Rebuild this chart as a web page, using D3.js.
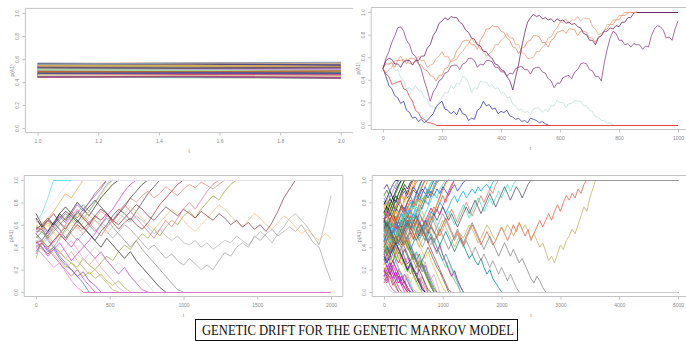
<!DOCTYPE html>
<html>
<head>
<meta charset="utf-8">
<script src="https://cdn.jsdelivr.net/npm/d3@7"></script>
<style>
  body { margin: 0; background: #fff; }
  svg { display: block; }
</style>
</head>
<body>
<svg id="chart" width="686" height="341"></svg>
<script>
// ---- panel 1: t = 1..2, values in thousandths ----
const p1Times = [1, 1.5, 2];
const p1Paths = [
  [548,552,560],[530,536,528],[512,505,498],[495,490,486],[470,476,470],[455,460,448],
  [540,546,552],[522,515,520],[505,512,506],[488,482,478],[462,470,468],[448,452,440],
  [558,562,566],[535,528,540],[518,522,512],[500,496,505],[482,478,470],[468,460,455],
  [552,548,556],[528,532,522],[510,518,514],[492,500,494],[476,470,480],[458,466,460],
  [445,440,432],[560,556,548],[538,542,534],[515,510,502],[498,506,512],[485,490,482],
  [465,458,462],[450,446,438],[545,538,530],[525,520,526],[508,500,492],[490,486,496],
  [472,480,474],[460,455,450],[555,565,570],[442,448,436]
];
const p1Colors = ["#8fd18f","#e05050","#7040a0","#e0d050","#4060c0","#303030","#f0a0c0","#60c0c0",
  "#c08040","#a0a0a0","#50a050","#d070d0","#f09060","#2040a0","#b0d070","#c03060","#90b0e0","#806040",
  "#e0c0a0","#40a0a0","#a06090","#f0e080","#6060d0","#d04040","#80c080","#404080","#e0a060","#a0c0c0",
  "#c0a0e0","#608040","#e06090","#3090d0","#d0b050","#705070","#a0e0a0","#c06030","#5050a0","#e0e0a0",
  "#90a0b0","#b04080"];
const p1XTicks = [1.0, 1.2, 1.4, 1.6, 1.8, 2.0];

// ---- panel 2: t = 0..1000, step 10, values in percent ----
const p2Step = 10;
const p2Paths = [
  [50,55,53,56,48,49,42,40,32,33,30,35,31,30,24,23,16,17,14,21,24,29,28,35,32,37,36,43,42,37,
   29,33,32,39,38,38,34,36,32,33,28,29,24,25,18,17,13,14,11,12,9,14,15,15,11,14,12,17,17,22,
   20,20,15,19,19,22,21,21,17,17,13,12,7,7,4,4,1,2,0],
  [50,43,35,32,26,24,19,21,13,11,6,7,3,5,2,4,7,10,16,19,21,14,13,10,12,9,15,10,9,4,
   6,5,13,15,21,17,18,14,15,10,12,11,13,8,7,5,6,3,4,2,6,5,4,2,3,1,0],
  [50,46,49,51,57,57,61,55,59,54,55,56,61,57,57,51,53,54,59,61,65,60,61,56,57,58,63,65,69,72,
   77,73,73,67,67,61,63,65,71,71,75,77,81,77,77,71,71,64,63,59,59,60,65,65,69,71,77,78,83,86,
   91,91,94,90,93,93,96,92,95,94,94,87,85,80,81,83,89,89,93,93,97,97,100],
  [50,54,54,55,51,57,57,58,54,59,59,58,54,53,49,48,44,43,39,44,44,50,51,57,59,66,69,74,75,75,
   71,71,67,75,79,85,85,88,87,87,83,82,77,75,69,68,63,68,69,74,75,79,79,78,73,73,69,75,77,82,
   83,84,81,85,85,84,79,83,83,82,77,77,73,78,79,84,85,89,89,93,93,97,97,99,100],
  [50,59,65,73,79,86,87,83,75,71,63,61,55,49,39,31,21,29,33,39,41,46,47,52,53,53,49,54,55,59,
   59,57,51,54,53,57,57,56,51,51,47,47,43,46,45,50,51,52,49,49,45,50,51,51,47,46,41,39,33,37,
   37,42,43,44,41,47,49,54,55,54,49,48,43,43,39,55,67,77,83,81,75,75,71,72,69,72,71,71,67,70,
   69,79,85,88,87,84,77,78,75,85,92],
  [50,57,59,58,54,54,51,56,57,57,53,57,57,61,61,68,71,79,83,90,92,95,93,96,95,95,91,89,84,82,
   77,76,71,70,65,65,61,59,54,53,49,48,43,39,31,43,54,69,81,91,95,98,96,97,94,95,93,94,91,94,
   92,93,90,91,89,90,87,86,81,80,75,75,71,77,79,83,83,86,85,88,87,91,91,95,95,99,100],
  [50,45,43,36,37,38,39,32,31,25,21,13,11,6,5,2,2,1,0]
];
const p2Colors = ["#c4e0dc","#3c3ca8","#eaa888","#e8906e","#8e4a8a","#6e2a6a","#e04848"];
const p2XTicks = [0, 200, 400, 600, 800, 1000];

// ---- panel 3: t = 0..2000, step 40 ----
const p3Step = 40;
const p3Paths = [
  [62,70,84,100],
  [44,40,34,38,30,24,20,14,18,10,6,0],
  [56,60,66,60,70,64,72,80,74,68,76,84,90,96,100],
  [52,46,54,62,56,48,56,64,58,52,46,54,60,68,74,70,64,72,80,88,94,100],
  [42,38,34,40,36,30,26,22,30,24,20,26,32,28,36,42,38,46,52,48,56,50,58,64,60,68,72,66,74,80,86,82,90,96,100],
  [58,56,50,44,52,58,64,58,52,60,66,72,68,62,70,78,84,80,86,90,84,88,94,90,86,92,96,93,98,95,92,96,100],
  [48,54,60,52,46,54,60,56,62,68,64,58,52,58,64,70,76,72,66,60,56,62,68,74,70,64,58,54,60,66,72,78,74,68,62,58,64,70,66,60,56,62,68,64,58,52,56,50,46,52,48],
  [50,44,50,56,62,58,52,46,52,58,64,60,54,48,54,60,56,50,44,38,42,36,30,34,28,24,30,25,20,24,20,28,35,32,40,44,40,50,46,52,56,50,54,58,54,60,52,44,40,24,10],
  [60,56,62,58,64,70,66,60,66,72,68,62,58,64,70,66,62,68,64,58,52,56,50,46,50,44,42,46,40,44,38,42,46,44,50,46,42,48,54,50,44,52,58,66,70,64,58,50,42,62,86],
  [66,58,64,70,62,56,64,72,66,60,68,74,70,64,60,66,72,78,74,68,64,70,76,72,68,74,70,66,72,68,64,70,66,60,64,58,62,56,60,54,62,72,84,92,100],
  [38,42,48,40,34,40,46,38,30,24,30,22,16,10,4,0],
  [46,40,32,38,44,36,28,34,40,46,52,60,68,74,82,90,96,100],
  [70,60,54,62,70,76,70,64,58,52,46,40,48,42,36,30,36,28,22,16,10,4,0],
  [36,44,36,40,32,26,20,14,8,0],
  [54,54,48,42,36,30,36,28,22,16,20,14,8,2,0],
  [64,58,66,72,80,88,84,92,100],
  [46,46,52,58,52,46,40,34,28,34,40,34,28,22,26,20,14,8,12,6,0],
  [58,56,48,54,60,66,72,66,74,80,88,94,100],
  [52,58,52,60,68,62,70,78,72,80,86,92,100],
  [60,56,62,54,48,56,62,70,64,72,80,86,94,100],
  [44,46,40,46,52,46,54,60,56,62,68,64,70,62,56,62,66,60,56,62,70,78,84,90,96,100],
  [54,56,50,58,64,70,64,72,66,60,54,60,66,58,52,46,40,46,38,32,26,20,14,8,2,0],
  [40,44,38,46,52,46,40,48,42,36,30,36,28,22,16,22,14,8,2,0],
  [48,54,46,40,48,56,64,70,78,72,80,88,96,100],
  [66,58,64,60,66,72,68,62,70,76,82,76,70,64,70,76,84,90,96,100],
  [34,44,38,32,26,20,14,20,12,6,0],
  [56,56,64,58,52,60,68,74,68,62,56,50,58,64,72,78,72,66,60,54,48,56,64,58,66,74,80,74,82,90,96,100],
  [30,46,40,34,28,22,26,20,14,18,12,16,10,6,10,4,0],
  [62,68,74,80,88,94,100],
  [40,34,28,22,26,18,10,4,0]
];
const p3Colors = ["#60e0e0","#8040c0","#1a1a1a","#404040","#a0a030","#e08878","#f4c080","#a0a0a0",
  "#b0b0b0","#803048","#e8a0c8","#d030d0","#202020","#5060c8","#c8a878","#f0a040","#d0d0d0","#906040",
  "#9050d0","#e8d860","#a03030","#888888","#c050b0","#60a0a0","#303030","#c050b0","#e07090","#b0b040",
  "#e6e0ee","#d878c8"];
const p3XTicks = [0, 500, 1000, 1500, 2000];

// ---- panel 4: t = 0..5000, step 50 ----
const p4Step = 50;
const p4Paths = [
  [57,63,71,66,74,79,73,84,91,87,95,100],
  [43,37,45,39,31,26,33,27,19,24,15,9,12,5,0],
  [81,75,68,74,63,69,77,72,81,86,79,88,93,100],
  [35,41,33,27,36,44,39,31,25,29,21,17,10,3,0],
  [66,59,72,68,61,55,63,70,66,74,81,77,89,95,100],
  [24,31,27,19,13,20,16,9,4,0],
  [52,45,39,47,55,49,42,36,43,37,29,34,26,21,27,18,13,7,0],
  [47,54,61,55,67,62,58,65,73,68,76,71,80,87,82,90,97,100],
  [71,77,83,79,72,80,88,93,87,96,100],
  [39,46,52,44,38,31,37,45,50,43,35,28,22,30,24,17,11,16,8,0],
  [61,54,47,53,59,52,45,51,58,64,57,63,70,65,58,52,60,67,74,69,77,83,90,96,100],
  [29,23,16,22,28,21,14,8,13,6,0],
  [86,91,84,79,88,94,100],
  [54,61,55,48,56,63,58,66,60,53,47,55,62,57,51,44,49,41,36,42,33,27,20,14,19,11,5,0],
  [45,52,47,55,50,58,64,59,67,73,66,71,78,74,83,89,85,93,100],
  [19,12,17,9,4,0],
  [63,57,64,70,76,71,78,74,80,85,91,88,95,100],
  [50,43,48,41,35,40,33,26,31,24,18,23,15,9,3,0],
  [76,82,76,70,63,69,61,55,61,67,62,70,77,84,79,88,94,100],
  [33,40,35,42,49,45,52,47,41,35,29,36,30,24,17,11,5,0],
  [58,52,59,66,60,54,48,55,61,68,63,57,50,56,63,69,75,70,78,85,92,98,100],
  [41,35,28,34,41,47,42,50,45,38,32,26,19,25,18,12,6,0],
  [62,70,78,84,80,88,94,100],
  [70,76,72,80,86,82,90,96,92,98,100],
  [30,22,16,24,18,12,6,10,4,0],
  [20,14,22,16,10,14,8,4,0],
  [55,62,56,64,72,66,60,68,76,70,78,86,80,88,94,100],
  [45,52,60,56,64,58,66,74,68,62,70,76,72,80,86,92,88,96,100],
  [65,72,68,76,82,78,86,90,84,88,94,90,86,92,88,84,90,86,92,88,94,90,86,92,96,90,94,98,100],
  [40,34,42,48,44,52,58,52,46,40,34,28,34,26,20,14,8,2,0],
  [12,8,14,6,10,4,0],
  [25,32,26,20,28,22,16,10,16,8,2,0],
  [50,42,36,44,50,58,52,60,68,62,56,62,70,76,82,78,86,92,98,100],
  [35,28,36,42,36,30,24,30,22,16,22,14,8,14,6,0],
  [58,50,44,52,46,54,62,56,64,70,64,58,52,60,54,48,42,48,40,34,28,22,28,20,14,8,0],
  [15,10,18,12,6,0],
  [72,66,74,80,76,84,78,72,80,86,92,98,100],
  [48,56,62,58,66,72,68,62,56,62,68,74,70,64,70,76,82,88,84,92,96,100],
  [52,46,54,48,42,50,56,50,44,38,44,50,56,52,46,52,58,54,48,42,48,54,48,42,36,42,48,42,36,30,34,28,24,30,22,16,20,12,8,4,0],
  [38,44,38,46,52,46,40,48,54,60,54,48,42,36,30,36,28,22,16,10,4,0],
  [60,54,48,56,62,56,50,44,50,42,36,30,24,18,24,16,10,4,0],
  [8,14,6,2,0],
  [92,96,90,96,100],
  [42,48,42,36,44,50,46,52,58,64,58,52,46,40,46,52,46,40,34,40,34,28,22,16,10,6,0],
  [66,60,54,62,68,62,56,64,70,64,58,64,58,52,58,64,70,76,72,80,86,80,88,94,100],
  [28,34,40,34,28,36,30,24,18,24,16,10,4,0],
  [54,60,66,60,54,48,54,48,42,48,54,60,66,72,66,60,66,72,78,84,90,96,100],
  [76,70,64,70,76,82,88,82,90,96,100],
  [46,40,34,40,46,52,46,40,34,28,34,28,22,28,34,40,34,28,22,18,12,6,0],
  [58,64,58,52,58,64,70,64,58,64,70,66,60,54,60,66,72,68,74,80,76,70,76,82,86,80,86,90,84,88,92,88,94,90,94,96,92,98,100],
  [44,50,44,38,44,50,56,50,44,50,56,62,56,50,56,62,68,62,56,50,56,62,68,74,68,62,68,74,80,74,68,74,80,86,80,86,92,88,96,100],
  [56,50,56,62,56,50,44,50,56,62,58,52,46,52,58,64,58,52,58,64,70,64,58,52,46,52,46,40,46,40,34,40,34,28,34,28,22,28,22,16,22,16,10,16,10,4,0],
  [36,42,48,42,48,54,48,42,48,54,60,54,48,54,60,54,60,66,60,54,60,66,72,66,60,66,72,78,72,66,72,78,84,78,72,78,84,78,84,90,84,90,96,90,96,100],
  [64,58,64,70,64,58,52,58,64,58,52,46,52,58,64,58,64,70,64,70,76,70,64,70,64,58,64,70,76,70,76,82,76,70,76,82,88,82,76,82,88,94,88,82,88,94,90,84,90,96,100],
  [50,56,50,44,50,56,62,56,50,56,62,68,62,56,50,56,50,44,50,56,50,44,38,44,50,56,50,44,50,56,62,56,50,44,38,44,50,44,38,32,38,44,38,32,38,32,26,30,24,18,12,8,14,10,4,0],
  [60,54,48,54,60,54,48,42,48,54,48,54,60,66,60,54,60,54,48,54,60,66,60,54,48,54,48,42,48,54,60,54,48,42,48,54,48,42,46,52,
   58,52,46,52,60,54,62,56,50,56,46,52,58,64,58,64,70,64,72,78,72,80,86,82,88,84,92,88,96,100],
  [48,54,48,42,50,56,50,44,38,44,50,46,40,46,52,58,52,46,52,58,64,58,52,46,40,46,52,48,54,60,56,50,44,48,54,60,56,50,46,52,
   58,54,60,56,50,56,62,56,60,54,48,52,46,40,44,36,28,32,26,34,42,38,46,50,56,52,60,68,76,72,84,92,100],
  [18,24,18,12,18,12,6,0],
  [68,74,80,74,82,88,94,100],
  [32,26,32,38,44,38,32,26,20,26,20,14,8,2,0],
  [74,80,74,68,74,80,86,80,86,92,98,100],
  [22,16,22,28,22,16,10,4,0],
  [50,56,62,68,62,68,74,68,62,56,62,68,74,80,86,92,86,92,98,100],
  [84,78,84,90,96,100],
  [62,56,62,56,50,56,62,68,74,80,74,80,86,80,86,92,98,100],
  [38,32,38,44,50,44,50,56,62,56,62,68,62,56,50,44,38,32,26,20,14,8,2,0],
  [46,52,58,52,58,64,70,76,70,76,82,88,82,88,94,88,94,100],
  [56,62,56,50,44,38,32,38,32,26,20,14,20,14,8,2,0],
  [26,20,26,32,38,32,26,20,14,8,14,8,2,0],
  [14,20,26,20,14,8,14,8,2,0],
  [78,84,90,84,90,96,100],
  [34,28,22,28,22,16,10,16,10,4,0],
  [52,58,52,46,40,46,52,58,64,58,64,70,64,58,52,46,52,46,40,34,28,34,28,22,16,10,4,0],
  [64,70,64,58,64,70,76,70,76,82,76,82,88,94,100],
  [40,46,52,46,40,34,40,46,40,34,28,22,28,22,16,10,4,0],
  [88,82,90,96,92,100],
  [10,6,2,0]
];
const p4Colors = [
  "#ff7f00","#e31a1c","#1f78b4","#6a3d9a","#33a02c","#b15928","#fb9a99","#a6cee3","#000000","#cab2d6",
  "#ff00aa","#00ced1","#228b22","#8b008b","#4169e1","#d2691e","#2f4f4f","#da70d6","#ffa500","#20b2aa",
  "#dc143c","#556b2f",
  "#000000","#1a1a1a","#d020c0","#7020a0","#f08020","#20c0e0","#2040d0","#20a040",
  "#c03070","#e0a0d0","#4080c0","#c08040","#60d0a0","#a040a0","#e05050","#20e0e0","#008080","#f0c040",
  "#8060e0","#e040a0","#3030a0","#a0a0a0","#d06020","#40c040","#c0c040","#ff6090","#606060","#00b0f0",
  "#e07060","#909090","#40e0c0","#405060","#808080","#e06040","#c0b060","#ff00ff","#00a000","#0000a0",
  "#d0d000","#a06000","#ff8000","#8080ff","#00e0a0","#b04040","#2080ff","#505050","#e0e060","#c000c0",
  "#000000","#9040c0","#40a0a0","#ff4040","#888800","#9a9a9a","#c8c8c8"];
const p4XTicks = [0, 1000, 2000, 3000, 4000, 5000];

const yTicks = [0, 0.2, 0.4, 0.6, 0.8, 1.0];
const titleText = "GENETIC DRIFT FOR THE GENETIC MARKOV MODEL";

// ---- layout ----
const svg = d3.select("#chart");
const FONT = "Liberation Sans, Arial, sans-serif";
const BOX = "#c4c4c4";
const TXT = "#8a8a8a";

const panels = [
  {left: 25.4, right: 353, top: 8.4, bottom: 132.6, xDomain: [1, 2], xTicks: p1XTicks, fmt: d3.format(".1f"), rightBorder: false},
  {left: 371.2, right: 689.8, top: 7.5, bottom: 129.5, xDomain: [0, 1000], xTicks: p2XTicks, fmt: d3.format("d"), rightBorder: false},
  {left: 24.2, right: 342.8, top: 175.5, bottom: 296.5, xDomain: [0, 2000], xTicks: p3XTicks, fmt: d3.format("d"), rightBorder: true},
  {left: 372.2, right: 689.8, top: 175.5, bottom: 296.5, xDomain: [0, 5000], xTicks: p4XTicks, fmt: d3.format("d"), rightBorder: false}
];

function frame(p) {
  const span = p.xDomain[1] - p.xDomain[0];
  const x = d3.scaleLinear()
    .domain([p.xDomain[0] - 0.04 * span, p.xDomain[1] + 0.04 * span])
    .range([p.left, p.right]);
  const y = d3.scaleLinear().domain([-0.04, 1.04]).range([p.bottom, p.top]);

  const g = svg.append("g");

  // box (R style, light gray)
  const edges = [
    [p.left, p.top, p.right, p.top],
    [p.left, p.top, p.left, p.bottom],
    [p.left, p.bottom, p.right, p.bottom]
  ];
  if (p.rightBorder) edges.push([p.right, p.top, p.right, p.bottom]);
  g.selectAll("line.box").data(edges).join("line")
    .attr("class", "box")
    .attr("x1", d => d[0]).attr("y1", d => d[1])
    .attr("x2", d => d[2]).attr("y2", d => d[3])
    .attr("stroke", BOX).attr("stroke-width", 1);

  const xAxis = d3.axisBottom(x).tickValues(p.xTicks).tickFormat(p.fmt)
    .tickSize(3).tickPadding(3.5);
  const gx = g.append("g").attr("transform", `translate(0,${p.bottom})`).call(xAxis);
  gx.select(".domain").remove();
  gx.selectAll("line").attr("stroke", BOX);
  gx.selectAll("text").attr("fill", TXT).attr("font-size", 5).attr("font-family", FONT);

  const yAxis = d3.axisLeft(y).tickValues(yTicks).tickFormat(d3.format(".1f")).tickSize(3);
  const gy = g.append("g").attr("transform", `translate(${p.left},0)`).call(yAxis);
  gy.select(".domain").remove();
  gy.selectAll("line").attr("stroke", BOX);
  gy.selectAll("text")
    .attr("fill", TXT).attr("font-size", 5).attr("font-family", FONT)
    .attr("text-anchor", "middle").attr("x", 0).attr("y", -6).attr("dy", 0)
    .attr("transform", "rotate(-90)");

  g.append("text")
    .attr("x", (p.left + p.right) / 2).attr("y", p.bottom + 20)
    .attr("text-anchor", "middle").attr("font-size", 5).attr("font-family", FONT).attr("fill", TXT)
    .text("t");
  g.append("text")
    .attr("transform", `translate(${p.left - 11},${(p.top + p.bottom) / 2}) rotate(-90)`)
    .attr("text-anchor", "middle").attr("font-size", 5).attr("font-family", FONT).attr("fill", TXT)
    .text("p(A1)");

  return {g, x, y};
}

// draw the walks; once an allele is fixed (0 or 1) it stays there until tMax.
// Those flat stretches are drawn last, snapped to the pixel grid, so the
// last one drawn shows its own colour like in the R plot.
function drawWalks(f, paths, colors, step, tMax, width) {
  const line = d3.line().x(d => f.x(d[0])).y(d => f.y(d[1]));
  const col = i => colors[i % colors.length];
  f.g.append("g").selectAll("path")
    .data(paths.map(v => v.map((p, i) => [i * step, p / 100])))
    .join("path")
    .attr("d", line)
    .attr("fill", "none")
    .attr("stroke", (d, i) => col(i))
    .attr("stroke-width", width)
    .attr("stroke-linejoin", "round");

  const holds = [];
  paths.forEach((v, i) => {
    const last = v[v.length - 1];
    if (last === 0 || last === 100) holds.push({t0: (v.length - 1) * step, v: last / 100, c: col(i)});
  });
  f.g.append("g").selectAll("line").data(holds).join("line")
    .attr("x1", d => f.x(d.t0)).attr("x2", f.x(tMax))
    .attr("y1", d => Math.round(f.y(d.v)) + 0.5).attr("y2", d => Math.round(f.y(d.v)) + 0.5)
    .attr("stroke", d => d.c).attr("stroke-width", 1);
}

// panel 1
const f1 = frame(panels[0]);
const line1 = d3.line().x((d, i) => f1.x(p1Times[i])).y(d => f1.y(d / 1000));
f1.g.append("g").selectAll("path").data(p1Paths).join("path")
  .attr("d", line1).attr("fill", "none")
  .attr("stroke", (d, i) => p1Colors[i % p1Colors.length])
  .attr("stroke-width", 1.6).attr("stroke-opacity", 0.9);

// panels 2-4
drawWalks(frame(panels[1]), p2Paths, p2Colors, p2Step, 1000, 0.8);
drawWalks(frame(panels[2]), p3Paths, p3Colors, p3Step, 2000, 0.7);
drawWalks(frame(panels[3]), p4Paths, p4Colors, p4Step, 5000, 0.75);

// title box
svg.append("rect")
  .attr("x", 195.5).attr("y", 319.5).attr("width", 322).attr("height", 21)
  .attr("fill", "none").attr("stroke", "#111").attr("stroke-width", 1);
svg.append("text")
  .attr("x", 358).attr("y", 334.5).attr("text-anchor", "middle")
  .attr("font-family", "Liberation Serif, Times New Roman, serif").attr("font-size", 14.5)
  .attr("textLength", 312).attr("lengthAdjust", "spacingAndGlyphs")
  .attr("fill", "#111")
  .text(titleText);
</script>
</body>
</html>
